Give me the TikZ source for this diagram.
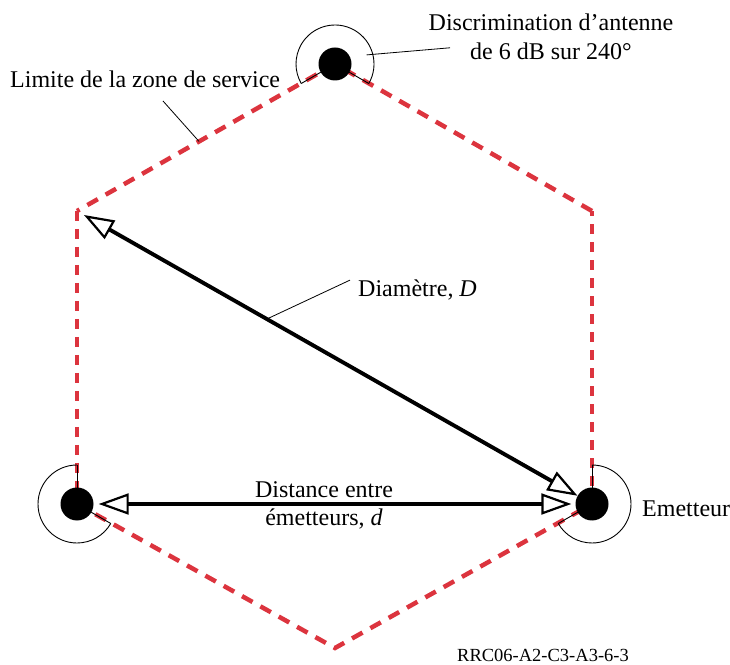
\documentclass[tikz,border=0pt]{standalone}
\usepackage{fontspec}
\setmainfont{Liberation Serif}
\usetikzlibrary{arrows.meta,calc}
\definecolor{zonered}{RGB}{220,52,62}
\begin{document}
\begin{tikzpicture}[x=1pt,y=1pt,
  dot/.style={circle,fill=black,minimum size=33pt,inner sep=0pt},
  zone/.style={draw=zonered,line width=4.5pt},
  zonediag/.style={zone,dash pattern=on 12pt off 9pt},
  zonevert/.style={zone,dash pattern=on 10pt off 8pt},
  lobe/.style={draw=black,line width=0.9pt},
  leader/.style={draw=black,line width=0.8pt},
  opentip/.tip={Triangle[open,length=30pt,width=21pt,line width=2.2pt]},
  dimarrow/.style={draw=black,line width=3.9pt,opentip-opentip},
  lbl/.style={font=\fontsize{24}{28}\selectfont,inner sep=0pt},
  codelbl/.style={font=\fontsize{18.5}{22}\selectfont,inner sep=0pt},
  ]
\useasboundingbox (0,0) rectangle (730,664);

% hexagon vertices
\coordinate (T)  at (335,600);
\coordinate (UL) at (77,453);
\coordinate (L)  at (77,160);
\coordinate (B)  at (335,16);
\coordinate (R)  at (592,160);
\coordinate (UR) at (592,453);

% service zone boundary
\draw[zonediag] (T) -- (UL);
\draw[zonevert] (UL) -- (L);
\draw[zonediag] (L) -- (B) -- (R);
\draw[zonevert] (R) -- (UR);
\draw[zonediag] (UR) -- (T);

% antenna lobes (240 degrees)
\draw[lobe] ($(T)+(-30:39)$) arc[start angle=-30, end angle=210, radius=39];
\draw[lobe] (T) -- +(-30:39);
\draw[lobe] (T) -- +(210:39);

\draw[lobe] ($(L)+(90:39)$) arc[start angle=90, end angle=330, radius=39];
\draw[lobe] (L) -- +(90:39);
\draw[lobe] (L) -- +(-30:39);

\draw[lobe] ($(R)+(90:39)$) arc[start angle=90, end angle=-150, radius=39];
\draw[lobe] (R) -- +(90:39);
\draw[lobe] (R) -- +(210:39);

% transmitters
\node[dot] (Tdot) at (T) {};
\node[dot] (Ldot) at (L) {};
\node[dot] (Rdot) at (R) {};

% dimension arrows
\coordinate (Dstart) at ($(UL)+(-30:8)$);
\draw[dimarrow] (Dstart) -- (Rdot);
\draw[dimarrow] ([xshift=5pt]Ldot.east) -- ([xshift=-4pt]Rdot.west);

% labels
\node[lbl,anchor=base] (disc1) at (551,633) {Discrimination d’antenne};
\node[lbl,anchor=base] (disc2) at (551,604) {de 6 dB sur 240°};
\draw[leader] ($(Tdot.center)+(16:33)$) -- ([xshift=-20pt,yshift=4pt]disc2.west);

\node[lbl,anchor=base west] (limite) at (10,576) {Limite de la zone de service};
\draw[leader] ($(limite.base west)+(153,-13)$) -- ($(T)!0.527!(UL)$);

\node[lbl,anchor=base west] (diam) at (358,367) {Diamètre, \textit{D}};
\draw[leader] ($(Dstart)!0.36!(Rdot)$) -- ([xshift=-8pt]diam.north west);

\node[lbl,anchor=base] (dist1) at (324,167) {Distance entre};
\node[lbl,anchor=base] (dist2) at (324,139) {émetteurs, \textit{d}};

\node[lbl,anchor=base west] (emet) at (642,148) {Emetteur};

\node[codelbl,anchor=base west] (code) at (457,3) {RRC06-A2-C3-A3-6-3};
\end{tikzpicture}
\end{document}
